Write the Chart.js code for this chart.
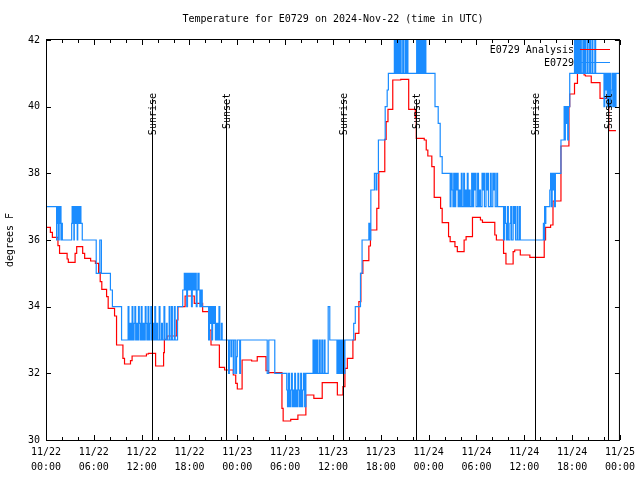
<!DOCTYPE html>
<html>
<head>
<meta charset="utf-8">
<script src="https://cdn.jsdelivr.net/npm/chart.js@4.4.1/dist/chart.umd.min.js"></script>
<style>
  html, body { margin: 0; padding: 0; background: #fff; }
  canvas { display: block; }
</style>
</head>
<body>
<canvas id="tempChart" width="640" height="480"></canvas>
<script>
// hours since 11/22 00:00 UTC, degrees F (value holds until next step)
const analysisSteps = [
    [0,36.38],[0.55,36.23],[0.8,36.08],[1.5,35.83],[1.7,35.6],[2.65,35.43],[2.8,35.33],[3.65,35.6],[3.85,35.8],
    [4.6,35.6],[4.85,35.45],[5.6,35.37],[6.2,35.3],[6.6,35.02],[6.8,34.75],[7.0,34.52],[7.6,34.3],[7.8,33.95],
    [8.6,33.72],[8.85,32.85],[9.65,32.45],[9.85,32.28],[10.6,32.38],[10.8,32.52],[12.6,32.58],[12.85,32.6],
    [13.75,32.22],[14.75,32.62],[14.85,33.02],[15.2,33.12],[16.4,33.6],[16.55,34.0],[17.45,34.32],[18.6,34.1],
    [19.65,33.85],[20.4,33.3],[20.7,32.85],[21.75,32.18],[22.4,32.1],[23.5,31.95],[23.8,31.7],[24.0,31.53],
    [24.6,32.4],[25.8,32.37],[26.5,32.5],[27.6,32.08],[27.9,32.02],[29.6,30.95],[29.75,30.57],[30.7,30.62],
    [31.6,30.75],[32.6,31.35],[33.6,31.25],[34.65,31.72],[36.55,31.35],[37.25,31.6],[37.5,32.15],[37.8,32.45],
    [38.5,33.0],[38.8,33.2],[39.25,34.15],[39.5,35.0],[39.75,35.38],[40.5,35.82],[40.7,36.3],[41.5,36.95],
    [41.75,38.05],[42.5,39.02],[42.67,39.55],[42.9,39.92],[43.5,40.8],[44.5,40.82],[45.5,39.92],[46.33,39.68],
    [46.45,39.05],[47.45,39.0],[47.7,38.7],[47.9,38.52],[48.4,38.2],[48.7,37.28],[49.5,36.95],[49.7,36.52],
    [50.5,36.1],[50.7,35.95],[51.3,35.8],[51.6,35.65],[52.45,36.0],[52.7,36.1],[53.5,36.68],[54.5,36.6],
    [54.75,36.53],[56.3,36.15],[56.5,36.0],[57.4,35.6],[57.7,35.28],[58.6,35.65],[58.8,35.7],[59.5,35.55],
    [60.7,35.48],[62.5,36.0],[62.67,36.38],[63.3,36.45],[63.6,37.17],[64.6,38.82],[65.6,40.0],[65.7,40.38],
    [66.3,40.7],[66.67,41.0],[67.5,40.95],[67.67,40.92],[68.4,40.72],[69.5,40.25],[70.5,40.0],[70.6,39.28],
    [71.5,39.28]
];

const sensorSteps = [
    [0,37],[1.33,36],[1.38,37],[1.45,36.5],[1.52,37],[1.58,36],[1.65,37],[1.72,36.5],[1.80,37],[1.88,36],[1.95,36.5],[2.05,36],
    [3.22,36.5],[3.28,37],[3.35,36.5],[3.42,37],[3.50,36],[3.55,37],[3.62,36.5],[3.70,37],[3.78,36.5],[3.85,37],[3.92,36],
    [3.98,37],[4.05,36.5],[4.12,37],[4.20,36.5],[4.28,37],[4.38,36.5],[4.55,36],
    [6.30,35],[6.75,36],[6.95,35],[8.08,34.5],[8.33,34],[9.48,33],
    [10.30,34],[10.40,33],[10.55,33.5],[10.65,33],[10.80,34],[10.90,33],[11.05,33.5],[11.15,34],[11.25,33],[11.40,33.5],
    [11.50,33],[11.60,34],[11.70,33.5],[11.80,33],[11.95,34],[12.05,33],[12.20,33.5],[12.30,33],[12.45,34],[12.55,33.5],
    [12.65,33],[12.80,34],[12.90,33],[13.05,33.5],[13.15,34],[13.25,33],[13.40,33.5],[13.50,33],[13.65,34],[13.75,33],
    [13.90,33.5],[14.00,33],[14.20,34],[14.30,33],[14.50,33.5],[14.60,33],[14.80,34],[14.90,33],[15.10,33.5],[15.20,33],
    [15.45,34],[15.55,33],[15.75,34],[15.85,33],[16.10,34],[16.20,33],[16.50,34],
    [17.15,34.5],[17.35,35],[17.45,34.5],[17.55,35],[17.65,34],[17.75,35],[17.85,34.5],[17.95,35],[18.05,34.5],[18.15,35],
    [18.25,34],[18.35,35],[18.45,34.5],[18.55,35],[18.65,34.5],[18.75,35],[18.85,34],[18.95,34.5],[19.05,35],[19.20,34.5],
    [19.30,34],[19.45,34.5],[19.60,34],
    [20.40,33],[20.50,34],[20.60,33.5],[20.70,34],[20.80,33],[20.90,34],[21.00,33.5],[21.15,34],[21.25,33],[21.40,33.5],
    [21.55,33],[21.70,34],[21.80,33],[22.00,33.5],[22.10,33],
    [22.90,32],[23.00,33],[23.20,32.5],[23.30,33],[23.50,32],[23.60,33],[23.80,32],[23.90,32.5],[24.00,33],[24.30,32],[24.40,33],
    [27.75,32],[27.95,33],[28.70,32],
    [30.20,31.5],[30.30,31],[30.40,32],[30.55,31],[30.70,31.5],[30.80,32],[30.90,31],[31.00,31.5],[31.10,31],[31.20,32],
    [31.30,31],[31.40,31.5],[31.50,31],[31.60,32],[31.70,31.5],[31.80,31],[31.95,32],[32.05,31],[32.20,31.5],[32.30,32],
    [32.45,31],[32.60,32],
    [33.50,33],[33.60,32],[33.75,33],[33.85,32],[34.00,33],[34.10,32],[34.30,33],[34.40,32],[34.60,33],[34.70,32],
    [34.90,33],[35.00,32],[35.40,34],[35.60,33],
    [36.50,32],[36.60,33],[36.70,32],[36.85,33],[36.95,32],[37.05,33],[37.15,32],[37.30,33],[37.40,32],[37.50,33],
    [38.60,33.5],[38.80,34],[39.45,35],[39.65,36],[40.50,36.5],[40.65,36],[40.75,37.5],[41.20,38],[41.40,37.5],[41.50,38],
    [41.70,39],[42.55,40],[42.80,40.5],[42.95,41],
    [43.70,42],[43.80,41],[43.95,42],[44.05,41],[44.20,42],[44.30,41],[44.45,42],[44.55,41],[44.75,42],[44.85,41],
    [45.05,42],[45.15,41],[45.30,42],[45.40,41],
    [46.50,42],[46.60,41],[46.70,42],[46.80,41],[46.90,42],[47.00,41],[47.10,42],[47.20,41],[47.30,42],[47.40,41],
    [47.55,42],[47.65,41],
    [48.80,40],[49.20,39.5],[49.45,38.5],[49.70,38],
    [50.70,37],[50.80,38],[50.95,37.5],[51.05,37],[51.15,38],[51.30,37],[51.40,38],[51.50,37.5],[51.60,38],[51.70,37],
    [51.85,37.5],[51.95,37],[52.10,38],[52.20,37],[52.40,38],[52.50,37],[52.60,37.5],[52.70,37],[52.85,38],[52.95,37],
    [53.10,37.5],[53.20,37],[53.40,38],[53.50,37],[53.65,38],[53.75,37.5],[53.85,38],[53.95,37],[54.15,38],[54.25,37],
    [54.40,37.5],[54.50,37],[54.70,38],[54.80,37.5],[54.90,38],[55.00,37],[55.20,38],[55.30,37.5],[55.40,38],[55.50,37],
    [55.75,38],[55.85,37],[56.05,38],[56.15,37.5],[56.25,38],[56.35,37],[56.55,38],[56.65,37],
    [57.40,36],[57.50,37],[57.65,36.5],[57.75,36],[57.90,37],[58.00,36],[58.20,36.5],[58.30,37],[58.40,36],[58.60,37],
    [58.70,36.5],[58.80,37],[58.90,36],[59.10,37],[59.20,36],[59.40,37],[59.50,36],
    [62.40,36.5],[62.45,36],[62.55,37],[62.60,36.5],[62.70,37],[63.20,37.5],[63.30,38],[63.40,37],[63.50,38],[63.60,37.5],
    [63.70,38],[63.80,37],[63.90,38],
    [64.60,39],[65.00,40],[65.05,39],[65.15,40],[65.25,39.5],[65.35,40],[65.45,39],[65.55,40],[65.70,41],
    [66.30,42],[66.40,41],[66.55,42],[66.65,41],[66.80,42],[66.90,41],[67.05,42],[67.15,41],[67.35,42],[67.45,41],
    [67.60,42],[67.70,41],[67.90,42],[68.00,41],[68.20,42],[68.30,41],[68.50,42],[68.60,41],[68.85,42],[68.95,41],
    [70.00,40],[70.10,41],[70.20,40.5],[70.30,41],[70.40,40],[70.50,41],[70.60,40],[70.70,41],[70.80,40],[70.90,40.5],
    [71.00,41],[71.10,40],[71.25,41],[71.40,40],[71.50,41],[71.90,41]
];

const sunHours = [13.3, 22.55, 37.3, 46.45, 61.3, 70.5];
const sunLabels = ['Sunrise', 'Sunset', 'Sunrise', 'Sunset', 'Sunrise', 'Sunset'];

const xTickDates = ['11/22','11/22','11/22','11/22','11/23','11/23','11/23','11/23','11/24','11/24','11/24','11/24','11/25'];
const xTickTimes = ['00:00','06:00','12:00','18:00','00:00','06:00','12:00','18:00','00:00','06:00','12:00','18:00','00:00'];

const seriesNames = ['E0729 Analysis', 'E0729'];
const seriesColors = ['#ff0000', '#1a8cff'];

const FONT = '10px "DejaVu Sans Mono", "Liberation Mono", monospace';

// gnuplot-like frame, inward ticks, sunrise/sunset markers, key and titles
const gnuplotDecor = {
    id: 'gnuplotDecor',
    afterDatasetsDraw(chart) {
        const { ctx, chartArea: a, scales } = chart;
        const xs = scales.x, ys = scales.y;
        ctx.save();
        ctx.strokeStyle = '#000';
        ctx.fillStyle = '#000';
        ctx.lineWidth = 1;
        ctx.font = FONT;

        // sunrise / sunset
        sunHours.forEach((h, i) => {
            const px = Math.round(xs.getPixelForValue(h)) + 0.5;
            ctx.beginPath();
            ctx.moveTo(px, a.top + 59);
            ctx.lineTo(px, a.bottom);
            ctx.stroke();
            ctx.save();
            ctx.translate(px + 1, a.top + 53);
            ctx.rotate(-Math.PI / 2);
            ctx.textAlign = 'right';
            ctx.textBaseline = 'middle';
            ctx.fillText(sunLabels[i], 0, 0);
            ctx.restore();
        });

        // border
        ctx.strokeRect(a.left + 0.5, a.top - 0.5, a.right - a.left - 1, a.bottom - a.top + 1);

        // y ticks (both sides)
        ys.ticks.forEach(t => {
            const py = Math.round(ys.getPixelForValue(t.value)) + 0.5;
            ctx.beginPath();
            ctx.moveTo(a.left, py); ctx.lineTo(a.left + 5, py);
            ctx.moveTo(a.right, py); ctx.lineTo(a.right - 5, py);
            ctx.stroke();
        });

        // x ticks, major every 6 h, minor every 2 h
        for (let h = 0; h <= 72; h += 2) {
            const px = Math.round(xs.getPixelForValue(h)) + 0.5;
            const len = h % 6 === 0 ? 5 : 3;
            ctx.beginPath();
            ctx.moveTo(px, a.bottom); ctx.lineTo(px, a.bottom - len);
            ctx.moveTo(px, a.top); ctx.lineTo(px, a.top + len);
            ctx.stroke();
        }

        // key
        ctx.textAlign = 'right';
        ctx.textBaseline = 'middle';
        seriesNames.forEach((name, i) => {
            const ky = a.top + 10 + i * 13;
            ctx.fillStyle = '#000';
            ctx.fillText(name, 574, ky);
            ctx.strokeStyle = seriesColors[i];
            ctx.beginPath();
            ctx.moveTo(580, ky - 0.5);
            ctx.lineTo(610, ky - 0.5);
            ctx.stroke();
        });

        // title and y label
        ctx.fillStyle = '#000';
        ctx.textAlign = 'center';
        ctx.fillText('Temperature for E0729 on 2024-Nov-22 (time in UTC)', (a.left + a.right) / 2, 19);
        ctx.save();
        ctx.translate(10, (a.top + a.bottom) / 2);
        ctx.rotate(-Math.PI / 2);
        ctx.fillText('degrees F', 0, 0);
        ctx.restore();

        ctx.restore();
    }
};

const toPoints = steps => steps.map(([h, t]) => ({ x: h, y: t }));

new Chart(document.getElementById('tempChart'), {
    type: 'line',
    data: {
        datasets: [
            {
                label: seriesNames[1],
                data: toPoints(sensorSteps),
                borderColor: seriesColors[1],
                borderWidth: 1.2,
                pointRadius: 0,
                stepped: 'before',
                fill: false
            },
            {
                label: seriesNames[0],
                data: toPoints(analysisSteps),
                borderColor: seriesColors[0],
                borderWidth: 1.2,
                pointRadius: 0,
                stepped: 'before',
                fill: false
            }
        ]
    },
    options: {
        responsive: false,
        animation: false,
        layout: { padding: { left: 0, right: 18, top: 40, bottom: 0 } },
        scales: {
            x: {
                type: 'linear',
                min: 0,
                max: 72,
                grid: { display: false, drawTicks: false },
                border: { display: false },
                ticks: {
                    stepSize: 6,
                    autoSkip: false,
                    maxRotation: 0,
                    padding: 5,
                    color: '#000',
                    font: { family: '"DejaVu Sans Mono", monospace', size: 10, lineHeight: 1.5 },
                    callback: (v, i) => [xTickDates[i], xTickTimes[i]]
                },
                afterFit: s => { s.height = 40; }
            },
            y: {
                min: 30,
                max: 42,
                grid: { display: false, drawTicks: false },
                border: { display: false },
                ticks: {
                    stepSize: 2,
                    padding: 6,
                    color: '#000',
                    font: { family: '"DejaVu Sans Mono", monospace', size: 10 }
                },
                afterFit: s => { s.width = 46; }
            }
        },
        plugins: {
            legend: { display: false },
            tooltip: { enabled: false },
            title: { display: false }
        }
    },
    plugins: [gnuplotDecor]
});
</script>
</body>
</html>
